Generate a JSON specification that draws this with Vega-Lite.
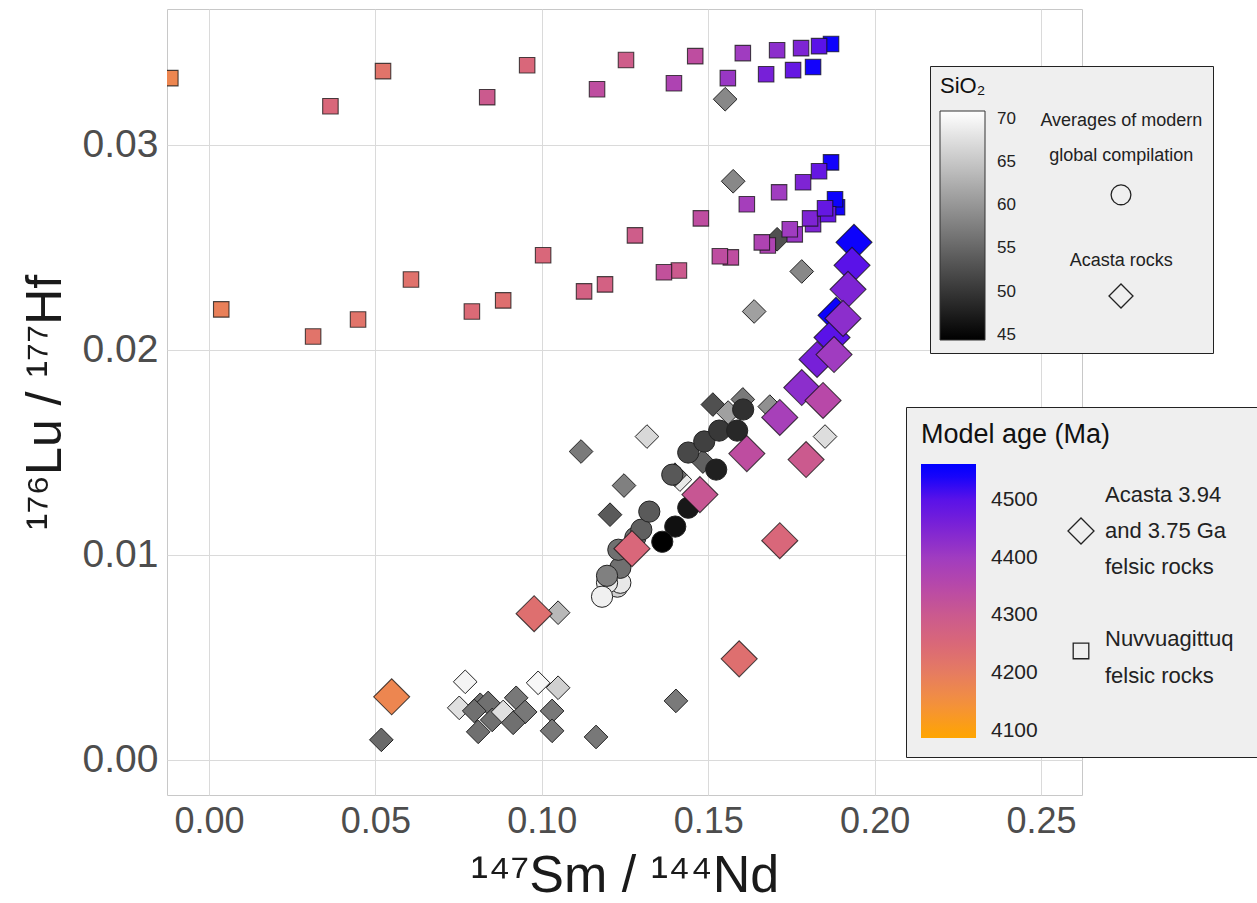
{
  "$schema": "https://vega.github.io/schema/vega-lite/v6.json",
  "width": 915,
  "height": 786,
  "autosize": {"type": "none"},
  "padding": {"left": 167, "top": 9, "right": 175, "bottom": 108},
  "background": "white",
  "config": {
    "font": "Liberation Sans",
    "view": {"stroke": "#c8c8c8", "strokeWidth": 1},
    "axis": {"grid": true, "gridColor": "#dadada", "gridWidth": 1, "ticks": false, "domain": false, "labelColor": "#4d4d4d", "titleColor": "#1a1a1a", "titleFontWeight": "normal", "labelFlush": false},
    "axisX": {"labelFontSize": 36, "labelPadding": 9, "titleFontSize": 52, "titlePadding": 11},
    "axisY": {"labelFontSize": 39, "labelPadding": 9, "titleFontSize": 50, "titlePadding": 12}
  },
  "datasets": {
    "grey": [
      {"x": 0.1551, "y": 0.03222, "SiO2": 58.5, "type": "Acasta rocks"},
      {"x": 0.1575, "y": 0.02822, "SiO2": 58.5, "type": "Acasta rocks"},
      {"x": 0.1707, "y": 0.02539, "SiO2": 52.7, "type": "Acasta rocks"},
      {"x": 0.1638, "y": 0.02187, "SiO2": 61.0, "type": "Acasta rocks"},
      {"x": 0.1781, "y": 0.02382, "SiO2": 58.5, "type": "Acasta rocks"},
      {"x": 0.1851, "y": 0.01577, "SiO2": 67.4, "type": "Acasta rocks"},
      {"x": 0.1118, "y": 0.01504, "SiO2": 57.1, "type": "Acasta rocks"},
      {"x": 0.1316, "y": 0.01577, "SiO2": 66.8, "type": "Acasta rocks"},
      {"x": 0.1247, "y": 0.01338, "SiO2": 57.7, "type": "Acasta rocks"},
      {"x": 0.1205, "y": 0.01196, "SiO2": 53.8, "type": "Acasta rocks"},
      {"x": 0.1514, "y": 0.01733, "SiO2": 52.7, "type": "Acasta rocks"},
      {"x": 0.1604, "y": 0.01758, "SiO2": 57.1, "type": "Acasta rocks"},
      {"x": 0.1685, "y": 0.01723, "SiO2": 59.4, "type": "Acasta rocks"},
      {"x": 0.1560, "y": 0.01694, "SiO2": 61.0, "type": "Acasta rocks"},
      {"x": 0.1415, "y": 0.01367, "SiO2": 68.5, "type": "Acasta rocks"},
      {"x": 0.1400, "y": 0.01391, "SiO2": 56.0, "type": "Acasta rocks"},
      {"x": 0.1484, "y": 0.01455, "SiO2": 54.4, "type": "Acasta rocks"},
      {"x": 0.1049, "y": 0.00718, "SiO2": 63.5, "type": "Acasta rocks"},
      {"x": 0.0770, "y": 0.00381, "SiO2": 69.7, "type": "Acasta rocks"},
      {"x": 0.0989, "y": 0.00376, "SiO2": 70.1, "type": "Acasta rocks"},
      {"x": 0.1049, "y": 0.00352, "SiO2": 66.0, "type": "Acasta rocks"},
      {"x": 0.0752, "y": 0.00254, "SiO2": 67.7, "type": "Acasta rocks"},
      {"x": 0.0815, "y": 0.00269, "SiO2": 56.0, "type": "Acasta rocks"},
      {"x": 0.0839, "y": 0.00278, "SiO2": 56.0, "type": "Acasta rocks"},
      {"x": 0.0797, "y": 0.00239, "SiO2": 56.0, "type": "Acasta rocks"},
      {"x": 0.0851, "y": 0.00195, "SiO2": 56.0, "type": "Acasta rocks"},
      {"x": 0.0809, "y": 0.00137, "SiO2": 56.0, "type": "Acasta rocks"},
      {"x": 0.0884, "y": 0.00234, "SiO2": 67.7, "type": "Acasta rocks"},
      {"x": 0.0923, "y": 0.00303, "SiO2": 56.9, "type": "Acasta rocks"},
      {"x": 0.0950, "y": 0.00234, "SiO2": 56.9, "type": "Acasta rocks"},
      {"x": 0.0914, "y": 0.00181, "SiO2": 56.0, "type": "Acasta rocks"},
      {"x": 0.1031, "y": 0.00239, "SiO2": 56.9, "type": "Acasta rocks"},
      {"x": 0.1031, "y": 0.00142, "SiO2": 56.9, "type": "Acasta rocks"},
      {"x": 0.1163, "y": 0.00112, "SiO2": 56.9, "type": "Acasta rocks"},
      {"x": 0.1403, "y": 0.00288, "SiO2": 57.1, "type": "Acasta rocks"},
      {"x": 0.0518, "y": 0.00098, "SiO2": 55.4, "type": "Acasta rocks"},
      {"x": 0.1227, "y": 0.00845, "SiO2": 66.0, "type": "Averages of modern global compilation"},
      {"x": 0.1236, "y": 0.00864, "SiO2": 68.5, "type": "Averages of modern global compilation"},
      {"x": 0.1196, "y": 0.00864, "SiO2": 68.5, "type": "Averages of modern global compilation"},
      {"x": 0.1236, "y": 0.00937, "SiO2": 56.0, "type": "Averages of modern global compilation"},
      {"x": 0.1196, "y": 0.00898, "SiO2": 57.7, "type": "Averages of modern global compilation"},
      {"x": 0.1181, "y": 0.00796, "SiO2": 69.3, "type": "Averages of modern global compilation"},
      {"x": 0.1230, "y": 0.01025, "SiO2": 56.0, "type": "Averages of modern global compilation"},
      {"x": 0.1281, "y": 0.01084, "SiO2": 56.0, "type": "Averages of modern global compilation"},
      {"x": 0.1299, "y": 0.01123, "SiO2": 54.4, "type": "Averages of modern global compilation"},
      {"x": 0.1323, "y": 0.01211, "SiO2": 53.8, "type": "Averages of modern global compilation"},
      {"x": 0.1392, "y": 0.01391, "SiO2": 53.6, "type": "Averages of modern global compilation"},
      {"x": 0.1440, "y": 0.01499, "SiO2": 51.9, "type": "Averages of modern global compilation"},
      {"x": 0.1488, "y": 0.01553, "SiO2": 51.1, "type": "Averages of modern global compilation"},
      {"x": 0.1533, "y": 0.01606, "SiO2": 50.2, "type": "Averages of modern global compilation"},
      {"x": 0.1605, "y": 0.01709, "SiO2": 49.4, "type": "Averages of modern global compilation"},
      {"x": 0.1587, "y": 0.01606, "SiO2": 48.6, "type": "Averages of modern global compilation"},
      {"x": 0.1524, "y": 0.01416, "SiO2": 47.7, "type": "Averages of modern global compilation"},
      {"x": 0.1440, "y": 0.01230, "SiO2": 46.9, "type": "Averages of modern global compilation"},
      {"x": 0.1401, "y": 0.01138, "SiO2": 46.1, "type": "Averages of modern global compilation"},
      {"x": 0.1362, "y": 0.01064, "SiO2": 44.5, "type": "Averages of modern global compilation"}
    ],
    "felsic": [
      {"x": -0.0116, "y": 0.03325, "age": 4175, "type": "Nuvvuagittuq felsic rocks"},
      {"x": 0.0365, "y": 0.03188, "age": 4255, "type": "Nuvvuagittuq felsic rocks"},
      {"x": 0.0523, "y": 0.03359, "age": 4220, "type": "Nuvvuagittuq felsic rocks"},
      {"x": 0.0836, "y": 0.03232, "age": 4300, "type": "Nuvvuagittuq felsic rocks"},
      {"x": 0.0956, "y": 0.03388, "age": 4255, "type": "Nuvvuagittuq felsic rocks"},
      {"x": 0.1253, "y": 0.03413, "age": 4290, "type": "Nuvvuagittuq felsic rocks"},
      {"x": 0.1166, "y": 0.03271, "age": 4335, "type": "Nuvvuagittuq felsic rocks"},
      {"x": 0.1461, "y": 0.03432, "age": 4335, "type": "Nuvvuagittuq felsic rocks"},
      {"x": 0.1397, "y": 0.03300, "age": 4370, "type": "Nuvvuagittuq felsic rocks"},
      {"x": 0.1604, "y": 0.03447, "age": 4400, "type": "Nuvvuagittuq felsic rocks"},
      {"x": 0.1559, "y": 0.03325, "age": 4410, "type": "Nuvvuagittuq felsic rocks"},
      {"x": 0.1707, "y": 0.03461, "age": 4430, "type": "Nuvvuagittuq felsic rocks"},
      {"x": 0.1674, "y": 0.03344, "age": 4460, "type": "Nuvvuagittuq felsic rocks"},
      {"x": 0.1779, "y": 0.03471, "age": 4450, "type": "Nuvvuagittuq felsic rocks"},
      {"x": 0.1755, "y": 0.03364, "age": 4485, "type": "Nuvvuagittuq felsic rocks"},
      {"x": 0.1869, "y": 0.03491, "age": 4550, "type": "Nuvvuagittuq felsic rocks"},
      {"x": 0.1833, "y": 0.03481, "age": 4500, "type": "Nuvvuagittuq felsic rocks"},
      {"x": 0.1815, "y": 0.03379, "age": 4545, "type": "Nuvvuagittuq felsic rocks"},
      {"x": 0.0037, "y": 0.02197, "age": 4190, "type": "Nuvvuagittuq felsic rocks"},
      {"x": 0.0313, "y": 0.02065, "age": 4220, "type": "Nuvvuagittuq felsic rocks"},
      {"x": 0.0448, "y": 0.02148, "age": 4220, "type": "Nuvvuagittuq felsic rocks"},
      {"x": 0.0607, "y": 0.02343, "age": 4225, "type": "Nuvvuagittuq felsic rocks"},
      {"x": 0.0790, "y": 0.02187, "age": 4245, "type": "Nuvvuagittuq felsic rocks"},
      {"x": 0.0884, "y": 0.02241, "age": 4232, "type": "Nuvvuagittuq felsic rocks"},
      {"x": 0.1004, "y": 0.02461, "age": 4255, "type": "Nuvvuagittuq felsic rocks"},
      {"x": 0.1127, "y": 0.02285, "age": 4275, "type": "Nuvvuagittuq felsic rocks"},
      {"x": 0.1190, "y": 0.02319, "age": 4275, "type": "Nuvvuagittuq felsic rocks"},
      {"x": 0.1280, "y": 0.02558, "age": 4290, "type": "Nuvvuagittuq felsic rocks"},
      {"x": 0.1412, "y": 0.02387, "age": 4300, "type": "Nuvvuagittuq felsic rocks"},
      {"x": 0.1367, "y": 0.02378, "age": 4325, "type": "Nuvvuagittuq felsic rocks"},
      {"x": 0.1478, "y": 0.02641, "age": 4335, "type": "Nuvvuagittuq felsic rocks"},
      {"x": 0.1568, "y": 0.02451, "age": 4335, "type": "Nuvvuagittuq felsic rocks"},
      {"x": 0.1535, "y": 0.02456, "age": 4335, "type": "Nuvvuagittuq felsic rocks"},
      {"x": 0.1616, "y": 0.02710, "age": 4390, "type": "Nuvvuagittuq felsic rocks"},
      {"x": 0.1713, "y": 0.02768, "age": 4400, "type": "Nuvvuagittuq felsic rocks"},
      {"x": 0.1785, "y": 0.02817, "age": 4450, "type": "Nuvvuagittuq felsic rocks"},
      {"x": 0.1869, "y": 0.02914, "age": 4545, "type": "Nuvvuagittuq felsic rocks"},
      {"x": 0.1833, "y": 0.02871, "age": 4485, "type": "Nuvvuagittuq felsic rocks"},
      {"x": 0.1679, "y": 0.02509, "age": 4370, "type": "Nuvvuagittuq felsic rocks"},
      {"x": 0.1661, "y": 0.02524, "age": 4370, "type": "Nuvvuagittuq felsic rocks"},
      {"x": 0.1760, "y": 0.02563, "age": 4410, "type": "Nuvvuagittuq felsic rocks"},
      {"x": 0.1745, "y": 0.02588, "age": 4400, "type": "Nuvvuagittuq felsic rocks"},
      {"x": 0.1815, "y": 0.02612, "age": 4450, "type": "Nuvvuagittuq felsic rocks"},
      {"x": 0.1806, "y": 0.02641, "age": 4450, "type": "Nuvvuagittuq felsic rocks"},
      {"x": 0.1887, "y": 0.02695, "age": 4545, "type": "Nuvvuagittuq felsic rocks"},
      {"x": 0.1881, "y": 0.02734, "age": 4550, "type": "Nuvvuagittuq felsic rocks"},
      {"x": 0.1860, "y": 0.02661, "age": 4485, "type": "Nuvvuagittuq felsic rocks"},
      {"x": 0.1851, "y": 0.02690, "age": 4485, "type": "Nuvvuagittuq felsic rocks"},
      {"x": 0.1938, "y": 0.02524, "age": 4550, "type": "Acasta 3.94 and 3.75 Ga felsic rocks"},
      {"x": 0.1932, "y": 0.02412, "age": 4500, "type": "Acasta 3.94 and 3.75 Ga felsic rocks"},
      {"x": 0.1920, "y": 0.02295, "age": 4450, "type": "Acasta 3.94 and 3.75 Ga felsic rocks"},
      {"x": 0.1884, "y": 0.02168, "age": 4550, "type": "Acasta 3.94 and 3.75 Ga felsic rocks"},
      {"x": 0.1872, "y": 0.02060, "age": 4500, "type": "Acasta 3.94 and 3.75 Ga felsic rocks"},
      {"x": 0.1905, "y": 0.02153, "age": 4430, "type": "Acasta 3.94 and 3.75 Ga felsic rocks"},
      {"x": 0.1827, "y": 0.01953, "age": 4460, "type": "Acasta 3.94 and 3.75 Ga felsic rocks"},
      {"x": 0.1878, "y": 0.01977, "age": 4400, "type": "Acasta 3.94 and 3.75 Ga felsic rocks"},
      {"x": 0.1781, "y": 0.01816, "age": 4430, "type": "Acasta 3.94 and 3.75 Ga felsic rocks"},
      {"x": 0.1845, "y": 0.01753, "age": 4350, "type": "Acasta 3.94 and 3.75 Ga felsic rocks"},
      {"x": 0.1715, "y": 0.01670, "age": 4385, "type": "Acasta 3.94 and 3.75 Ga felsic rocks"},
      {"x": 0.1616, "y": 0.01494, "age": 4335, "type": "Acasta 3.94 and 3.75 Ga felsic rocks"},
      {"x": 0.1794, "y": 0.01465, "age": 4300, "type": "Acasta 3.94 and 3.75 Ga felsic rocks"},
      {"x": 0.1475, "y": 0.01294, "age": 4310, "type": "Acasta 3.94 and 3.75 Ga felsic rocks"},
      {"x": 0.1271, "y": 0.01030, "age": 4255, "type": "Acasta 3.94 and 3.75 Ga felsic rocks"},
      {"x": 0.1715, "y": 0.01069, "age": 4255, "type": "Acasta 3.94 and 3.75 Ga felsic rocks"},
      {"x": 0.0977, "y": 0.00713, "age": 4232, "type": "Acasta 3.94 and 3.75 Ga felsic rocks"},
      {"x": 0.1593, "y": 0.00493, "age": 4232, "type": "Acasta 3.94 and 3.75 Ga felsic rocks"},
      {"x": 0.0549, "y": 0.00308, "age": 4175, "type": "Acasta 3.94 and 3.75 Ga felsic rocks"}
    ]
  },
  "encoding": {
    "x": {"field": "x", "type": "quantitative", "scale": {"domain": [-0.0126, 0.2623], "nice": false, "zero": false}, "axis": {"title": "¹⁴⁷Sm / ¹⁴⁴Nd", "values": [0, 0.05, 0.1, 0.15, 0.2, 0.25], "format": ".2f"}},
    "y": {"field": "y", "type": "quantitative", "scale": {"domain": [-0.00171, 0.03662], "nice": false, "zero": false}, "axis": {"title": "¹⁷⁶Lu / ¹⁷⁷Hf", "values": [0, 0.01, 0.02, 0.03], "format": ".2f"}}
  },
  "layer": [
    {
      "data": {"name": "grey"},
      "mark": {"type": "point", "filled": true, "stroke": "#222", "strokeWidth": 1, "opacity": 1, "clip": true, "size": {"expr": "datum.type == 'Acasta rocks' ? 560 : 450"}},
      "encoding": {
        "fill": {"field": "SiO2", "type": "quantitative", "scale": {"domain": [44.42, 70.88], "range": ["#000000", "#ffffff"], "interpolate": "rgb", "nice": false, "zero": false},
          "legend": {"orient": "none", "legendX": 763, "legendY": 57, "title": "SiO₂", "titleFontSize": 22, "titleFontWeight": "normal", "titleColor": "#111", "titlePadding": 13, "titleLimit": 400, "padding": 10, "fillColor": "#efefef", "strokeColor": "#222", "direction": "vertical", "gradientLength": 229, "gradientThickness": 45, "gradientStrokeColor": "#333", "gradientStrokeWidth": 1, "labelFontSize": 17, "labelColor": "#222", "labelOffset": 12, "labelLimit": 500, "values": [45, 50, 55, 60, 65, 70], "format": "d", "labelExpr": "datum.label + '\u2003\u2003\u2003\u2003\u2003\u2003\u2003\u2003\u2003\u2003\u2003\u200b'", "zindex": 1}},
        "shape": {"field": "type", "type": "nominal",
          "scale": {"domain": ["Averages of modern global compilation", "Acasta rocks", "s1", "s2", "circ", "s4", "s5", "diam"],
                    "range": ["circle", "diamond", "M0,-1.2M0,1.3", "M0,-1.2M0,1.3", "M-0.9,0.35A0.9,0.9,0,1,1,0.9,0.35A0.9,0.9,0,1,1,-0.9,0.35Z M0,-1.2 M0,1.3", "M0,-1.2M0,1.3", "M0,-1.2M0,1.3", "M-1.09,0L0,-1.09L1.09,0L0,1.09Z M0,-1.2 M0,1.3"]},
          "legend": {"orient": "none", "legendX": 942, "legendY": 100, "title": null, "padding": 0, "zindex": 2, "values": ["s1", "s2", "circ", "s4", "s5", "diam"], "symbolSize": 484, "symbolStrokeWidth": 1.3, "symbolStrokeColor": "#222", "symbolFillColor": "transparent", "labelFontSize": 18, "labelColor": "#222", "labelOffset": -11.7, "labelAlign": "center", "labelBaseline": "middle", "labelLimit": 500, "rowPadding": 2, "labelExpr": "datum.label == 's1' ? 'Averages of modern' : datum.label == 's2' ? 'global compilation' : datum.label == 's5' ? 'Acasta rocks' : ''"}}
      }
    },
    {
      "data": {"name": "felsic"},
      "mark": {"type": "point", "filled": true, "stroke": "#111", "strokeOpacity": 0.75, "strokeWidth": 1.1, "opacity": 1, "clip": true, "size": {"expr": "datum.type == 'Nuvvuagittuq felsic rocks' ? 667 : 1300"}},
      "encoding": {
        "fill": {"field": "age", "type": "quantitative", "scale": {"domain": [4088, 4150, 4200, 4250, 4300, 4350, 4400, 4450, 4500, 4540, 4562], "range": ["#ffa500", "#f3903f", "#e67c60", "#da6878", "#cb5a8e", "#b848a8", "#a03cc0", "#7e24d4", "#5a12e8", "#1804fa", "#0000ff"], "interpolate": "rgb", "nice": false, "zero": false},
          "legend": {"orient": "none", "legendX": 739, "legendY": 398, "title": "Model age (Ma)", "titleFontSize": 27, "titleFontWeight": "normal", "titleColor": "#111", "titlePadding": 15, "titleLimit": 500, "padding": 15, "fillColor": "#efefef", "strokeColor": "#222", "direction": "vertical", "gradientLength": 274, "gradientThickness": 55, "gradientStrokeWidth": 0, "labelFontSize": 21, "labelColor": "#222", "labelOffset": 15, "labelLimit": 600, "values": [4100, 4200, 4300, 4400, 4500], "format": "d", "labelExpr": "datum.label + '\u2003\u2003\u2003\u2003\u2003\u2003\u2003\u2003\u2003\u2003\u200b'", "zindex": 1}},
        "shape": {"field": "type", "type": "nominal",
          "scale": {"domain": ["Acasta 3.94 and 3.75 Ga felsic rocks", "Nuvvuagittuq felsic rocks", "m1", "ad", "m3", "m4", "nsq", "m6"],
                    "range": ["diamond", "M-0.6,-0.6H0.6V0.6H-0.6Z", "M0,-1M0,1.42", "M-1,0L0,-1L1,0L0,1Z M0,1.42", "M0,-1M0,1.42", "M0,-1M0,1.42", "M-0.6,0.32H0.6V1.52H-0.6Z M0,-1", "M0,-1M0,1.42"]},
          "legend": {"orient": "none", "legendX": 900, "legendY": 472, "title": null, "padding": 0, "zindex": 2, "values": ["m1", "ad", "m3", "m4", "nsq", "m6"], "symbolSize": 676, "symbolStrokeWidth": 1.3, "symbolStrokeColor": "#222", "symbolFillColor": "transparent", "labelFontSize": 22, "labelColor": "#222", "labelOffset": 10, "labelLimit": 500, "rowPadding": -5, "labelBaseline": "middle", "labelExpr": "datum.label == 'm1' ? 'Acasta 3.94' : datum.label == 'ad' ? 'and 3.75 Ga' : datum.label == 'm3' ? 'felsic rocks' : datum.label == 'nsq' ? 'Nuvvuagittuq' : datum.label == 'm6' ? 'felsic rocks' : ''"}}
      }
    }
  ],
  "resolve": {"scale": {"fill": "independent", "shape": "independent"}}
}
